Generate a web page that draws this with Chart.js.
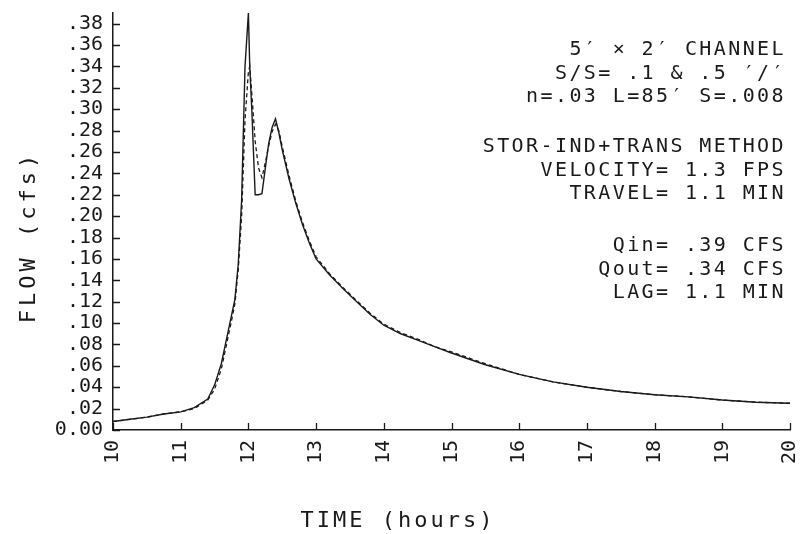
<!DOCTYPE html>
<html><head><meta charset="utf-8">
<script src="https://cdn.jsdelivr.net/npm/chart.js@4.4.1/dist/chart.umd.min.js"></script>
<style>html,body{margin:0;padding:0;background:#fff;}#wrap{width:800px;height:534px;position:relative;}canvas{display:block;}</style>
</head><body><div id="wrap"><canvas id="c" width="800" height="534" style="width:800px;height:534px"></canvas></div>
<script>
// ---- data (hours, cfs) ----
const timeHours = [10, 10.25, 10.5, 10.75, 11, 11.2, 11.4, 11.5, 11.6, 11.7, 11.75, 11.8, 11.85, 11.9, 11.95, 12.0, 12.02, 12.05, 12.1, 12.15, 12.2, 12.25, 12.3, 12.35, 12.4, 12.45, 12.5, 12.6, 12.7, 12.8, 12.9, 13.0, 13.2, 13.4, 13.6, 13.8, 14.0, 14.25, 14.5, 14.75, 15.0, 15.5, 16.0, 16.5, 17.0, 17.5, 18.0, 18.5, 19.0, 19.5, 20.0];
const inflowCfs = [0.008, 0.010, 0.012, 0.015, 0.017, 0.021, 0.029, 0.042, 0.062, 0.092, 0.107, 0.122, 0.155, 0.215, 0.340, 0.390, 0.340, 0.300, 0.220, 0.220, 0.221, 0.245, 0.268, 0.283, 0.291, 0.278, 0.262, 0.235, 0.212, 0.192, 0.175, 0.160, 0.145, 0.132, 0.120, 0.108, 0.098, 0.090, 0.084, 0.078, 0.072, 0.061, 0.052, 0.045, 0.040, 0.036, 0.033, 0.031, 0.028, 0.026, 0.025];
const outflowCfs = [0.008, 0.010, 0.012, 0.015, 0.017, 0.020, 0.028, 0.038, 0.057, 0.087, 0.102, 0.118, 0.150, 0.200, 0.290, 0.335, 0.340, 0.315, 0.270, 0.245, 0.236, 0.250, 0.266, 0.279, 0.286, 0.280, 0.265, 0.238, 0.214, 0.194, 0.177, 0.162, 0.146, 0.133, 0.121, 0.109, 0.099, 0.091, 0.085, 0.078, 0.073, 0.062, 0.052, 0.045, 0.040, 0.036, 0.033, 0.031, 0.028, 0.026, 0.025];
const xTickValues = [10, 11, 12, 13, 14, 15, 16, 17, 18, 19, 20];
const yTickValues = [0, 0.02, 0.04, 0.06, 0.08, 0.10, 0.12, 0.14, 0.16, 0.18, 0.20, 0.22, 0.24, 0.26, 0.28, 0.30, 0.32, 0.34, 0.36, 0.38];
const infoBlocks = [
  ["5′ × 2′ CHANNEL", "S/S= .1 & .5 ′/′", "n=.03 L=85′ S=.008"],
  ["STOR-IND+TRANS METHOD", "VELOCITY= 1.3 FPS", "TRAVEL= 1.1 MIN"],
  ["Qin= .39 CFS", "Qout= .34 CFS", "LAG= 1.1 MIN"]
];
const xTitle = "TIME (hours)";
const yTitle = "FLOW (cfs)";

const FONT = "'DejaVu Sans Mono', monospace";
const INK = "#1a1a1a";

const decor = {
  id: 'decor',
  afterDraw(chart) {
    const ctx = chart.ctx, x = chart.scales.x, y = chart.scales.y, a = chart.chartArea;
    ctx.save();
    ctx.strokeStyle = INK; ctx.lineWidth = 1.3;
    ctx.beginPath();
    xTickValues.forEach(v => { const px = Math.round(x.getPixelForValue(v)) + 0.5; ctx.moveTo(px, a.bottom); ctx.lineTo(px, a.bottom - 7); });
    yTickValues.forEach(v => { const py = Math.round(y.getPixelForValue(v)) + 0.5; ctx.moveTo(a.left, py); ctx.lineTo(a.left + 7, py); });
    ctx.stroke();
    ctx.fillStyle = INK;
    ctx.font = "20px " + FONT;
    ctx.letterSpacing = "2.4px";
    ctx.textAlign = "right"; ctx.textBaseline = "alphabetic";
    const starts = [55, 152, 251];
    infoBlocks.forEach((blk, i) => blk.forEach((t, j) => ctx.fillText(t, 786, starts[i] + j * 23.7)));
    ctx.font = "22px " + FONT;
    ctx.letterSpacing = "3px";
    ctx.textAlign = "center";
    ctx.fillText(xTitle, 398, 527);
    ctx.translate(35, 237);
    ctx.rotate(-Math.PI / 2);
    ctx.letterSpacing = "4px";
    ctx.fillText(yTitle, 0, 0);
    ctx.restore();
  }
};

new Chart(document.getElementById('c'), {
  type: 'line',
  data: {
    datasets: [
      { label: 'Inflow', data: timeHours.map((t, i) => ({ x: t, y: inflowCfs[i] })), borderColor: INK, borderWidth: 1.4, pointRadius: 0, tension: 0, fill: false },
      { label: 'Outflow', data: timeHours.map((t, i) => ({ x: t, y: outflowCfs[i] })), borderColor: INK, borderWidth: 1.3, borderDash: [4, 3], pointRadius: 0, tension: 0, fill: false }
    ]
  },
  options: {
    responsive: false, maintainAspectRatio: false, animation: false, devicePixelRatio: 1,
    layout: { padding: { left: 0, right: 10, top: 13, bottom: 0 } },
    plugins: { legend: { display: false }, tooltip: { enabled: false }, title: { display: false } },
    scales: {
      x: {
        type: 'linear', min: 10, max: 20,
        afterBuildTicks: s => { s.ticks = xTickValues.map(v => ({ value: v })); },
        afterFit: s => { s.height = 104; s.paddingLeft = 0; s.paddingRight = 0; },
        grid: { display: true, drawOnChartArea: false, drawTicks: false },
        border: { display: true, color: INK, width: 1.5 },
        ticks: { autoSkip: false, minRotation: 90, maxRotation: 90, padding: 10, color: INK, font: { family: FONT, size: 20 }, callback: v => String(v) }
      },
      y: {
        type: 'linear', min: 0, max: 0.39,
        afterBuildTicks: s => { s.ticks = yTickValues.map(v => ({ value: v })); },
        afterFit: s => { s.width = 113; s.paddingTop = 0; s.paddingBottom = 0; },
        grid: { display: true, drawOnChartArea: false, drawTicks: false },
        border: { display: true, color: INK, width: 1.5 },
        ticks: { autoSkip: false, padding: 10, color: INK, font: { family: FONT, size: 20 }, callback: v => v === 0 ? '0.00' : v.toFixed(2).replace(/^0/, '') }
      }
    }
  },
  plugins: [decor]
});
</script>
</body></html>
